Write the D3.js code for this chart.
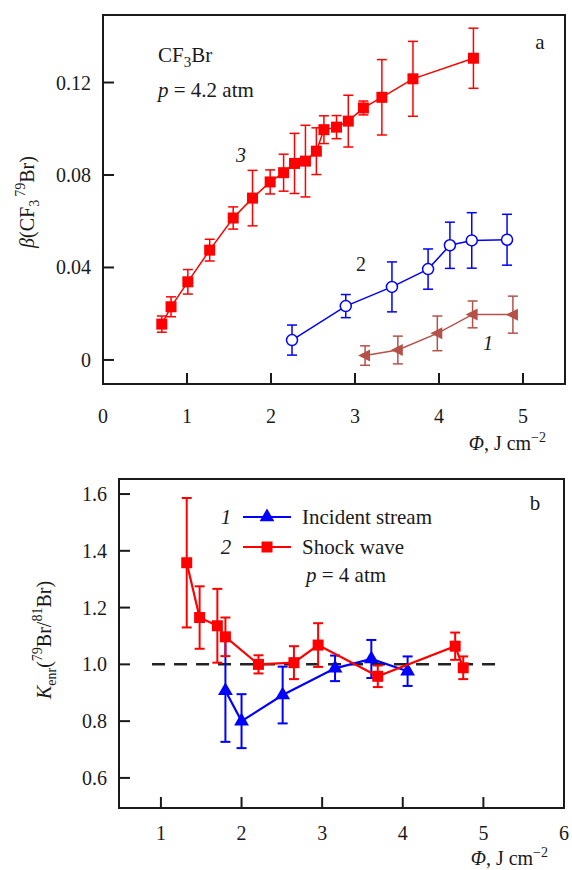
<!DOCTYPE html>
<html>
<head>
<meta charset="utf-8">
<script src="https://cdn.jsdelivr.net/npm/d3@7"></script>
<style>
  body { margin: 0; background: #fff; }
</style>
</head>
<body>
<div id="chart"></div>
<script>
// Panel a: beta(CF3 79Br) vs fluence
const phi3 = [0.70, 0.81, 1.01, 1.27, 1.55, 1.78, 1.99, 2.15, 2.28, 2.41, 2.54, 2.63, 2.78, 2.92, 3.10, 3.32, 3.69, 4.41];
const beta3 = [0.0155, 0.023, 0.0338, 0.0475, 0.0614, 0.070, 0.077, 0.081, 0.085, 0.086, 0.0903, 0.0996, 0.1007, 0.1033, 0.109, 0.1136, 0.1216, 0.1305];
const err3 = [0.0035, 0.0043, 0.0053, 0.0047, 0.0048, 0.012, 0.0052, 0.008, 0.013, 0.0155, 0.0101, 0.006, 0.005, 0.0112, 0.003, 0.0163, 0.0162, 0.013];

const phi2 = [2.25, 2.89, 3.44, 3.87, 4.13, 4.39, 4.81];
const beta2 = [0.0086, 0.0233, 0.0316, 0.0393, 0.0496, 0.0517, 0.052];
const err2 = [0.0065, 0.005, 0.0108, 0.0087, 0.010, 0.012, 0.011];

const phi1 = [3.12, 3.51, 3.98, 4.40, 4.88];
const beta1 = [0.0019, 0.0043, 0.0115, 0.0197, 0.0196];
const err1 = [0.0042, 0.006, 0.0075, 0.0058, 0.008];

const ticksAX = [0, 1, 2, 3, 4, 5];
const ticksAY = [0, 0.04, 0.08, 0.12];

// Panel b: enrichment factor
const phiShock = [1.32, 1.48, 1.70, 1.80, 2.21, 2.65, 2.95, 3.69, 4.65, 4.75];
const kShock = [1.358, 1.165, 1.136, 1.097, 1.0, 1.006, 1.068, 0.958, 1.064, 0.988];
const errShock = [0.228, 0.11, 0.13, 0.068, 0.032, 0.058, 0.077, 0.038, 0.048, 0.04];

const phiInc = [1.80, 2.00, 2.51, 3.16, 3.61, 4.06];
const kInc = [0.907, 0.80, 0.892, 0.986, 1.019, 0.976];
const errInc = [0.18, 0.095, 0.10, 0.045, 0.067, 0.052];

const refLine = [[0.89, 1.0], [5.23, 1.0]];
const ticksBX = [1, 2, 3, 4, 5, 6];
const ticksBY = [0.6, 0.8, 1.0, 1.2, 1.4, 1.6];

const legendB = [
  { num: "1", label: "Incident stream", color: "#0000ff", shape: "tri" },
  { num: "2", label: "Shock wave", color: "#ff0000", shape: "sq" }
];

const W = 572, H = 870;
const ink = "#1a1a1a";
const brown = "#b4524a";

const svg = d3.select("#chart").append("svg")
  .attr("width", W).attr("height", H);

const zip = (xs, ys, es) => xs.map((x, i) => ({ x, y: ys[i], e: es[i] }));

// helper: frame with inward ticks
function frame(x, y, xt, yt, fmtY, labelGap) {
  const [x0, x1] = x.range(), [y0, y1] = y.range();
  const g = svg.append("g");
  g.append("rect")
    .attr("x", x0).attr("y", y1).attr("width", x1 - x0).attr("height", y0 - y1)
    .attr("fill", "none").attr("stroke", ink).attr("stroke-width", 2);

  g.selectAll(".tx").data(xt).join("line")
    .attr("x1", d => x(d)).attr("x2", d => x(d))
    .attr("y1", y0).attr("y2", y0 - 11)
    .attr("stroke", ink).attr("stroke-width", 2);
  g.selectAll(".lx").data(xt).join("text")
    .attr("x", d => x(d)).attr("y", y0 + labelGap)
    .attr("text-anchor", "middle").attr("font-size", 20)
    .text(d => d);

  g.selectAll(".ty").data(yt).join("line")
    .attr("x1", x0).attr("x2", x0 + 11)
    .attr("y1", d => y(d)).attr("y2", d => y(d))
    .attr("stroke", ink).attr("stroke-width", 2);
  g.selectAll(".ly").data(yt).join("text")
    .attr("x", x0 - 12).attr("y", d => y(d) + 7)
    .attr("text-anchor", "end").attr("font-size", 20)
    .text(fmtY);
  return g;
}

function errorBars(g, data, x, y, color, cap, sw) {
  const eb = g.append("g").attr("stroke", color).attr("stroke-width", sw).attr("fill", "none");
  eb.selectAll("line.v").data(data).join("line")
    .attr("x1", d => x(d.x)).attr("x2", d => x(d.x))
    .attr("y1", d => y(d.y - d.e)).attr("y2", d => y(d.y + d.e));
  eb.selectAll("line.t").data(data).join("line")
    .attr("x1", d => x(d.x) - cap).attr("x2", d => x(d.x) + cap)
    .attr("y1", d => y(d.y + d.e)).attr("y2", d => y(d.y + d.e));
  eb.selectAll("line.b").data(data).join("line")
    .attr("x1", d => x(d.x) - cap).attr("x2", d => x(d.x) + cap)
    .attr("y1", d => y(d.y - d.e)).attr("y2", d => y(d.y - d.e));
}

function series(g, data, x, y, color, sw) {
  const line = d3.line().x(d => x(d.x)).y(d => y(d.y));
  g.append("path").datum(data).attr("d", line)
    .attr("fill", "none").attr("stroke", color).attr("stroke-width", sw);
}

function axisTitle(g, xr, yb) {
  const t = g.append("text").attr("x", xr).attr("y", yb)
    .attr("text-anchor", "end").attr("font-size", 20);
  t.append("tspan").attr("font-style", "italic").text("Φ");
  t.append("tspan").text(", J cm");
  t.append("tspan").attr("dy", -8).attr("font-size", 14).text("−2");
}

// ---------- Panel a ----------
const xA = d3.scaleLinear().domain([0, 5.5]).range([103, 565]);
const yA = d3.scaleLinear().domain([-0.0104, 0.1492]).range([384, 15]);
const gA = frame(xA, yA, ticksAX, ticksAY, d => d === 0 ? "0" : d3.format(".2f")(d), 39);
axisTitle(gA, 546, 450);

const yTitleA = gA.append("text")
  .attr("transform", "translate(34,202) rotate(-90)")
  .attr("text-anchor", "middle").attr("font-size", 20);
yTitleA.append("tspan").attr("font-style", "italic").text("β");
yTitleA.append("tspan").text("(CF");
yTitleA.append("tspan").attr("dy", 5).attr("font-size", 14).text("3");
yTitleA.append("tspan").attr("dy", -14).attr("font-size", 14).attr("dx", 3).text("79");
yTitleA.append("tspan").attr("dy", 9).text("Br)");

const s3 = zip(phi3, beta3, err3), s2 = zip(phi2, beta2, err2), s1 = zip(phi1, beta1, err1);

errorBars(gA, s1, xA, yA, brown, 5, 1.5);
series(gA, s1, xA, yA, brown, 1.5);
gA.selectAll(".m1").data(s1).join("path")
  .attr("transform", d => `translate(${xA(d.x)},${yA(d.y)})`)
  .attr("d", "M-7,0L5,-6L5,6Z").attr("fill", brown);

errorBars(gA, s2, xA, yA, "#0000ff", 5, 1.5);
series(gA, s2, xA, yA, "#0000ff", 1.5);
gA.selectAll(".m2").data(s2).join("circle")
  .attr("cx", d => xA(d.x)).attr("cy", d => yA(d.y)).attr("r", 5.5)
  .attr("fill", "#fff").attr("stroke", "#0000ff").attr("stroke-width", 1.5);

errorBars(gA, s3, xA, yA, "#ff0000", 5, 1.5);
series(gA, s3, xA, yA, "#ff0000", 1.5);
gA.selectAll(".m3").data(s3).join("rect")
  .attr("x", d => xA(d.x) - 5.5).attr("y", d => yA(d.y) - 5.5)
  .attr("width", 11).attr("height", 11).attr("fill", "#ff0000");

const cf = gA.append("text").attr("x", 158).attr("y", 62).attr("font-size", 21);
cf.append("tspan").text("CF");
cf.append("tspan").attr("dy", 5).attr("font-size", 15).text("3");
cf.append("tspan").attr("dy", -5).text("Br");
const pA = gA.append("text").attr("x", 158).attr("y", 97).attr("font-size", 21);
pA.append("tspan").attr("font-style", "italic").text("p");
pA.append("tspan").text(" = 4.2 atm");
gA.append("text").attr("x", 540).attr("y", 49).attr("font-size", 21).attr("text-anchor", "middle").text("a");
gA.append("text").attr("x", 241).attr("y", 162).attr("font-size", 20).attr("font-style", "italic").attr("text-anchor", "middle").text("3");
gA.append("text").attr("x", 361).attr("y", 271).attr("font-size", 20).attr("text-anchor", "middle").text("2");
gA.append("text").attr("x", 488).attr("y", 350).attr("font-size", 20).attr("font-style", "italic").attr("text-anchor", "middle").text("1");

// ---------- Panel b ----------
const xB = d3.scaleLinear().domain([0.48, 6]).range([119, 564]);
const yB = d3.scaleLinear().domain([0.494, 1.653]).range([808, 479]);
const gB = frame(xB, yB, ticksBX, ticksBY, d3.format(".1f"), 32);
axisTitle(gB, 548, 865);

const yTitleB = gB.append("text")
  .attr("transform", "translate(51,640) rotate(-90)")
  .attr("text-anchor", "middle").attr("font-size", 20);
yTitleB.append("tspan").attr("font-style", "italic").text("K");
yTitleB.append("tspan").attr("dy", 5).attr("font-size", 14).text("enr");
yTitleB.append("tspan").attr("dy", -5).text("(");
yTitleB.append("tspan").attr("dy", -9).attr("font-size", 14).text("79");
yTitleB.append("tspan").attr("dy", 9).text("Br/");
yTitleB.append("tspan").attr("dy", -9).attr("font-size", 14).text("81");
yTitleB.append("tspan").attr("dy", 9).text("Br)");

gB.append("path").datum(refLine)
  .attr("d", d3.line().x(d => xB(d[0])).y(d => yB(d[1])))
  .attr("stroke", "#222").attr("stroke-width", 2.5).attr("stroke-dasharray", "13 9").attr("fill", "none");

const sInc = zip(phiInc, kInc, errInc), sShock = zip(phiShock, kShock, errShock);
const tri = d3.symbol().type(d3.symbolTriangle).size(95);

errorBars(gB, sInc, xB, yB, "#0000ff", 5, 2);
series(gB, sInc, xB, yB, "#0000ff", 2.2);
gB.selectAll(".mi").data(sInc).join("path")
  .attr("transform", d => `translate(${xB(d.x)},${yB(d.y)})`)
  .attr("d", tri).attr("fill", "#0000ff");

errorBars(gB, sShock, xB, yB, "#ff0000", 5, 2);
series(gB, sShock, xB, yB, "#ff0000", 2.2);
gB.selectAll(".ms").data(sShock).join("rect")
  .attr("x", d => xB(d.x) - 5.5).attr("y", d => yB(d.y) - 5.5)
  .attr("width", 11).attr("height", 11).attr("fill", "#ff0000");

// legend
const leg = gB.selectAll(".leg").data(legendB).join("g")
  .attr("transform", (d, i) => `translate(0,${517 + i * 30})`);
leg.append("text").attr("x", 226).attr("y", 7).attr("font-size", 21)
  .attr("font-style", "italic").attr("text-anchor", "middle").text(d => d.num);
leg.append("line").attr("x1", 243).attr("x2", 291).attr("y1", 0).attr("y2", 0)
  .attr("stroke", d => d.color).attr("stroke-width", 2.2);
leg.append("path")
  .attr("transform", "translate(267,0)")
  .attr("d", d => d.shape === "tri" ? tri() : "M-5.5,-5.5h11v11h-11Z")
  .attr("fill", d => d.color);
leg.append("text").attr("x", 302).attr("y", 7).attr("font-size", 21).text(d => d.label);

const pB = gB.append("text").attr("x", 306).attr("y", 582).attr("font-size", 21);
pB.append("tspan").attr("font-style", "italic").text("p");
pB.append("tspan").text(" = 4 atm");
gB.append("text").attr("x", 535).attr("y", 510).attr("font-size", 21).attr("text-anchor", "middle").text("b");

// serif face on every text element
svg.selectAll("text").attr("font-family", "Liberation Serif").attr("fill", ink);
</script>
</body>
</html>
